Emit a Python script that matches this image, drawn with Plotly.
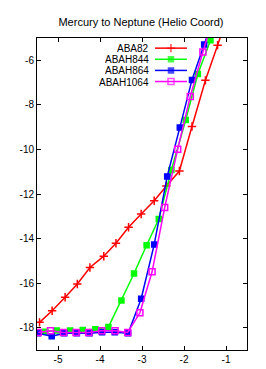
import plotly.graph_objects as go

title = "Mercury to Neptune (Helio Coord)"
series_names = ["ABA82", "ABAH844", "ABAH864", "ABAH1064"]

aba82_x = [-5.44, -5.14, -4.83, -4.54, -4.24, -3.91, -3.62, -3.32, -3.02, -2.71, -2.42, -2.11, -1.81, -1.49, -1.20, -0.90]
aba82_y = [-17.76, -17.24, -16.63, -16.04, -15.30, -14.79, -14.21, -13.49, -12.90, -12.30, -11.64, -10.97, -8.97, -6.90, -5.32, -3.70]

abah844_x = [-5.48, -5.30, -5.03, -4.71, -4.41, -4.11, -3.80, -3.49, -3.19, -2.89, -2.60, -2.30, -1.96, -1.67, -1.37, -1.07]
abah844_y = [-18.20, -18.18, -18.13, -18.13, -18.10, -18.07, -17.97, -16.78, -15.57, -14.30, -13.12, -10.92, -8.68, -6.62, -5.10, -3.60]

abah864_x = [-5.48, -5.15, -4.85, -4.55, -4.25, -3.95, -3.65, -3.33, -3.02, -2.71, -2.40, -2.10, -1.81, -1.52, -1.22]
abah864_y = [-18.25, -18.38, -18.25, -18.25, -18.25, -18.20, -18.20, -18.25, -16.70, -14.27, -11.21, -9.02, -6.88, -5.29, -3.70]

abah1064_x = [-5.47, -5.18, -4.87, -4.57, -4.27, -3.96, -3.64, -3.34, -3.05, -2.76, -2.46, -2.15, -1.85, -1.55, -1.25]
abah1064_y = [-18.21, -18.14, -18.21, -18.21, -18.21, -18.14, -18.14, -18.21, -17.33, -15.49, -12.61, -9.99, -7.62, -5.63, -3.70]

x_ticks = [-5, -4, -3, -2, -1]
x_tick_labels = ["-5", "-4", "-3", "-2", "-1"]
y_ticks = [-18, -16, -14, -12, -10, -8, -6]
y_tick_labels = ["-18", "-16", "-14", "-12", "-10", "-8", "-6"]

colors = ["#ff0000", "#00ff00", "#0000ff", "#ff00ff"]
symbols = ["cross-thin", "square", "square", "square-open"]
sizes = [6, 5, 5, 6]

xs = [aba82_x, abah844_x, abah864_x, abah1064_x]
ys = [aba82_y, abah844_y, abah864_y, abah1064_y]

font = "Liberation Sans, Arial, sans-serif"

fig = go.Figure()
for name, x, y, c, s, sz in zip(series_names, xs, ys, colors, symbols, sizes):
    fig.add_trace(go.Scatter(
        x=x, y=y, mode="lines+markers", name=name, showlegend=False,
        line=dict(color=c, width=1.5),
        marker=dict(symbol=s, size=sz, color=c, line=dict(color=c, width=1.5)),
    ))

# Custom gnuplot-style legend (text left, sample right) on an overlay axis
leg_rows = [0.9675, 0.9318, 0.8961, 0.8605]
for name, c, s, sz, ry in zip(series_names, colors, symbols, sizes, leg_rows):
    fig.add_trace(go.Scatter(
        x=[0.562, 0.638, 0.714], y=[ry, ry, ry], xaxis="x2", yaxis="y2",
        mode="lines+markers", showlegend=False, hoverinfo="skip",
        line=dict(color=c, width=1.5),
        marker=dict(symbol=s, size=[0, sz, 0], color=c, line=dict(color=c, width=1.5)),
    ))
    fig.add_annotation(x=0.536, y=ry, xref="paper", yref="paper", text=name,
                       showarrow=False, xanchor="right", yanchor="middle",
                       height=10, borderpad=0,
                       font=dict(family=font, size=10, color="black"))

axis_common = dict(showline=True, linecolor="black", linewidth=1, mirror="ticks",
                   ticks="inside", ticklen=4, tickcolor="black", showgrid=False,
                   zeroline=False, tickfont=dict(family=font, size=10, color="black"))

fig.update_layout(
    width=266, height=369,
    margin=dict(l=29, r=27, t=30, b=22),
    paper_bgcolor="white", plot_bgcolor="white",
    title=dict(text=title, x=0.5, xanchor="center", y=1 - 14.5 / 369, yanchor="middle",
               font=dict(family=font, size=11, color="black")),
    xaxis=dict(range=[-5.5, -0.5], tickvals=x_ticks, ticktext=x_tick_labels, **axis_common),
    yaxis=dict(range=[-19, -5], tickvals=y_ticks, ticktext=y_tick_labels, **axis_common),
    xaxis2=dict(range=[0, 1], overlaying="x", visible=False, domain=[0, 1]),
    yaxis2=dict(range=[0, 1], overlaying="y", visible=False, domain=[0, 1]),
    showlegend=False,
)

fig.write_html("out.html")
